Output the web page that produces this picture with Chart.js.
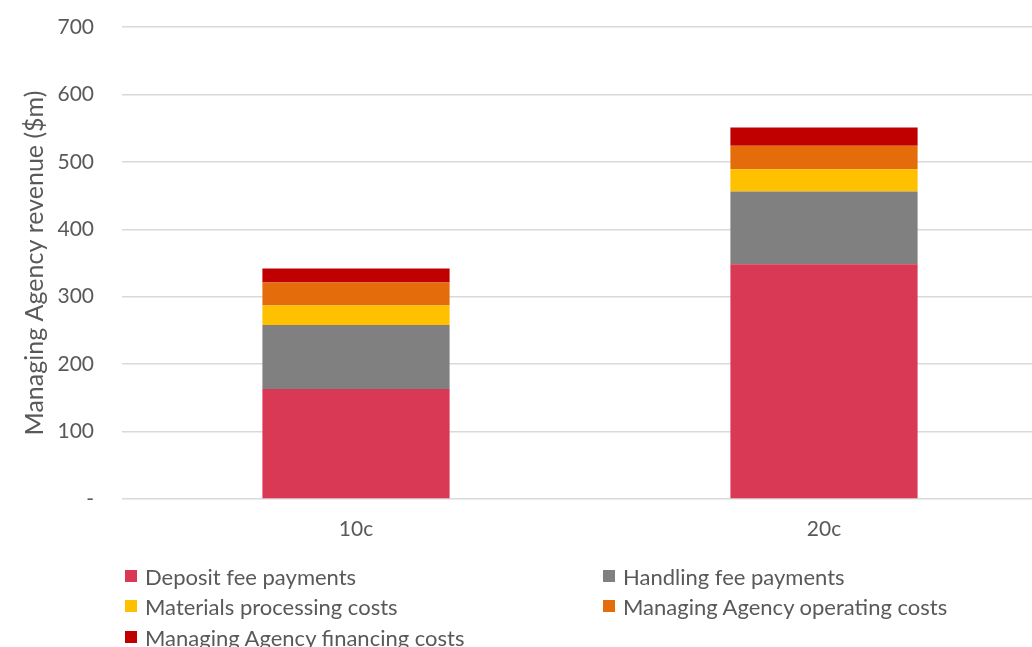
<!DOCTYPE html>
<html>
<head>
<meta charset="utf-8">
<script src="https://cdn.jsdelivr.net/npm/chart.js@4"></script>
<style>
    html, body { margin: 0; padding: 0; background: #fff; }
    body { width: 1032px; height: 647px; overflow: hidden; position: relative; }
    #wrap { position: absolute; left: 0; top: 0; width: 1058px; height: 552px; }
    #legend { position: absolute; left: 0; top: 0; width: 1032px; height: 647px; pointer-events: none; }
    .item { position: absolute; display: flex; align-items: center; font-family: Lato, sans-serif; font-size: 22px; color: #595959; white-space: nowrap; }
    .box { width: 12px; height: 12px; margin-right: 8px; }
</style>
</head>
<body>
<div id="wrap"><canvas id="chart"></canvas></div>
<div id="legend"></div>
<script>
// Managing Agency revenue by container deposit level ($m)
const categories = ["10c", "20c"];

const depositFees    = [163, 348];
const handlingFees   = [95, 108];
const materialsCosts = [29, 33];
const operatingCosts = [34, 35];
const financingCosts = [21, 27];

const seriesNames = [
    "Deposit fee payments",
    "Handling fee payments",
    "Materials processing costs",
    "Managing Agency operating costs",
    "Managing Agency financing costs",
];
const seriesColors = ["#D93954", "#808080", "#FFC000", "#E46C0A", "#C00000"];

const yTicks = [0, 100, 200, 300, 400, 500, 600, 700];

const textColor = "#595959";
const gridColor = "#D9D9D9";

const datasets = [depositFees, handlingFees, materialsCosts, operatingCosts, financingCosts]
    .map((values, i) => ({
        label: seriesNames[i],
        data: values,
        backgroundColor: seriesColors[i],
        borderWidth: 0,
        categoryPercentage: 1,
        barPercentage: 0.4,
    }));

/**
 * Lays the legend out in two left-aligned columns below the plot.
 */
const htmlLegend = {
    id: "htmlLegend",
    afterRender(chart) {
        const host = document.getElementById("legend");
        if (host.childElementCount) {
            return;
        }
        const cols = [125, 603];
        const rows = [576, 606, 637];
        chart.data.datasets.forEach((ds, i) => {
            const item = document.createElement("div");
            item.className = "item";
            item.style.left = cols[i % 2] + "px";
            item.style.top  = (rows[Math.floor(i / 2)] - 13) + "px";
            item.style.height = "26px";

            const box = document.createElement("span");
            box.className = "box";
            box.style.background = ds.backgroundColor;

            item.appendChild(box);
            item.appendChild(document.createTextNode(ds.label));
            host.appendChild(item);
        });
    }
};

new Chart(document.getElementById("chart"), {
    type: "bar",
    data: { labels: categories, datasets },
    plugins: [htmlLegend],
    options: {
        responsive: true,
        maintainAspectRatio: false,
        animation: false,
        layout: { padding: { top: 27, right: 0, bottom: 0, left: 0 } },
        plugins: {
            legend: { display: false },
            tooltip: { enabled: false },
        },
        scales: {
            x: {
                stacked: true,
                grid: { display: false, drawTicks: false },
                border: { display: false },
                ticks: {
                    color: textColor,
                    padding: 18,
                    font: { family: "Lato", size: 21 },
                },
                afterFit(scale) {
                    scale.height = 53;
                    scale.paddingLeft = 0;
                    scale.paddingRight = 0;
                },
            },
            y: {
                stacked: true,
                min: 0,
                max: 700,
                afterBuildTicks(scale) {
                    scale.ticks = yTicks.map(v => ({ value: v }));
                },
                grid: { color: gridColor, lineWidth: 1.5, drawTicks: false },
                border: { display: false },
                ticks: {
                    color: textColor,
                    padding: 28,
                    font: { family: "Lato", size: 21 },
                    callback: v => (v === 0 ? "-" : v),
                },
                title: {
                    display: true,
                    text: "Managing Agency revenue ($m)",
                    color: textColor,
                    font: { family: "Lato", size: 25 },
                    padding: { top: 20, bottom: 0 },
                },
                afterFit(scale) {
                    scale.width = 122;
                    scale.paddingTop = 0;
                    scale.paddingBottom = 0;
                },
            },
        },
    },
});
</script>
</body>
</html>
